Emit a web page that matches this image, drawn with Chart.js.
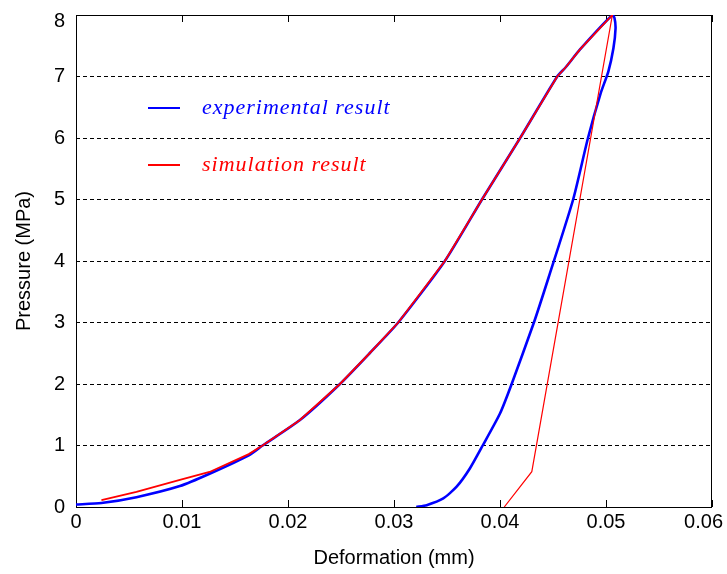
<!DOCTYPE html>
<html>
<head>
<meta charset="utf-8">
<title>Pressure vs Deformation</title>
<script src="https://cdn.jsdelivr.net/npm/chart.js@4.4.1/dist/chart.umd.min.js"></script>
<style>
    html, body { margin: 0; padding: 0; background: #fff; }
    #wrap { width: 727px; height: 574px; }
</style>
</head>
<body>
<div id="wrap"><canvas id="pressureChart" width="727" height="574"></canvas></div>
<script>
// experimental result (loading then unloading)
const expDeformation = [0, 0.0024, 0.0057, 0.0098, 0.0126, 0.0163, 0.0176, 0.0211, 0.0249, 0.0277, 0.0304,
    0.0348, 0.0383, 0.0419, 0.0454, 0.0462, 0.04755, 0.0506, 0.0508, 0.0509, 0.0507, 0.05022, 0.0495,
    0.0483, 0.0469, 0.0446, 0.0432, 0.0411, 0.0400, 0.03837, 0.03717, 0.03591, 0.03465, 0.03308, 0.0321];
const expPressure = [0.04, 0.065, 0.16, 0.34, 0.54, 0.84, 1.0, 1.41, 2.0, 2.5, 3.0,
    4.0, 5.0, 6.0, 7.0, 7.15, 7.44, 8.0, 7.95, 7.78, 7.46, 7.08, 6.73,
    6.0, 5.0, 3.74, 3.0, 2.0, 1.52, 1.0, 0.63, 0.33, 0.14, 0.03, 0];

// simulation result
const simDeformation = [0.0024, 0.0057, 0.0098, 0.0126, 0.0163, 0.0176, 0.0211, 0.0249, 0.0277, 0.0304,
    0.0348, 0.0383, 0.0419, 0.0454, 0.0462, 0.04755, 0.0506, 0.0430, 0.0404];
const simPressure = [0.11, 0.245, 0.44, 0.57, 0.86, 1.0, 1.41, 2.0, 2.5, 3.0,
    4.0, 5.0, 6.0, 7.0, 7.15, 7.44, 8.0, 0.574, 0];
const simPeakIndex = 16;

const xTicks = [0, 0.01, 0.02, 0.03, 0.04, 0.05, 0.06];
const xTickLabels = ['0', '0.01', '0.02', '0.03', '0.04', '0.05', '0.06'];
const yTicks = [0, 1, 2, 3, 4, 5, 6, 7, 8];

const legendItems = [
    { label: 'experimental result', color: '#0000ff' },
    { label: 'simulation result', color: '#ff0000' }
];

const tickFont = '20px "Liberation Sans", Arial, sans-serif';

function toPoints(xs, ys) {
    return xs.map((x, i) => ({ x: x, y: ys[i] }));
}

// no extra room for overhanging tick labels
function fixAxis(s, size) {
    if (s.isHorizontal()) s.height = size; else s.width = size;
    s.paddingTop = 0; s.paddingBottom = 0;
    s.paddingLeft = 0; s.paddingRight = 0;
}

// frame, inward ticks, tick labels and legend
const framePlugin = {
    id: 'frame',
    beforeDatasetsDraw(chart) {
        const { ctx, chartArea: a, scales } = chart;
        ctx.save();
        ctx.strokeStyle = '#000';
        ctx.lineWidth = 1;
        ctx.strokeRect(a.left + 0.5, a.top + 0.5, a.right - a.left - 1, a.bottom - a.top);
        ctx.beginPath();
        xTicks.forEach(v => {
            const px = Math.round(scales.x.getPixelForValue(v)) + 0.5;
            ctx.moveTo(px, a.bottom); ctx.lineTo(px, a.bottom - 7);
            ctx.moveTo(px, a.top); ctx.lineTo(px, a.top + 7);
        });
        ctx.stroke();

        // tick labels, kept inside the canvas like the original
        ctx.fillStyle = '#000';
        ctx.font = tickFont;
        ctx.textBaseline = 'middle';
        ctx.textAlign = 'center';
        xTicks.forEach((v, i) => {
            const w = ctx.measureText(xTickLabels[i]).width;
            const px = Math.min(scales.x.getPixelForValue(v), chart.width - 4 - w / 2);
            ctx.fillText(xTickLabels[i], px, a.bottom + 15);
        });
        ctx.textAlign = 'right';
        yTicks.forEach(v => {
            const py = Math.max(scales.y.getPixelForValue(v), a.top + 6);
            ctx.fillText(String(v), a.left - 11, py);
        });
        ctx.restore();
    },
    afterDraw(chart) {
        const ctx = chart.ctx;
        ctx.save();
        ctx.font = 'italic 22px "Liberation Serif", "DejaVu Serif", serif';
        ctx.letterSpacing = '1px';
        ctx.textBaseline = 'middle';
        legendItems.forEach((item, i) => {
            const y = 108 + i * 57;
            ctx.strokeStyle = item.color;
            ctx.lineWidth = 2;
            ctx.beginPath();
            ctx.moveTo(148, y); ctx.lineTo(180, y);
            ctx.stroke();
            ctx.fillStyle = item.color;
            ctx.fillText(item.label, 202, y);
        });
        ctx.restore();
    }
};

const ctx = document.getElementById('pressureChart').getContext('2d');
window.pressureChart = new Chart(ctx, {
    type: 'scatter',
    data: {
        datasets: [{
            label: 'experimental result',
            data: toPoints(expDeformation, expPressure),
            showLine: true,
            borderColor: '#0000ff',
            borderWidth: 2.6,
            pointRadius: 0,
            tension: 0.2,
            order: 2
        }, {
            label: 'simulation result',
            data: toPoints(simDeformation, simPressure),
            showLine: true,
            borderColor: '#ff0000',
            borderWidth: 1.8,
            pointRadius: 0,
            tension: 0,
            order: 1,
            segment: {
                borderWidth: c => c.p0DataIndex >= simPeakIndex ? 1.2 : 1.8
            }
        }]
    },
    options: {
        responsive: false,
        animation: false,
        layout: { padding: { top: 15, right: 15, left: 0, bottom: 0 } },
        plugins: {
            legend: { display: false },
            tooltip: { enabled: false }
        },
        scales: {
            x: {
                type: 'linear',
                min: 0,
                max: 0.06,
                afterFit: s => fixAxis(s, 67),
                afterBuildTicks: s => { s.ticks = xTicks.map(v => ({ value: v })); },
                grid: { display: false, drawTicks: false },
                border: { display: false },
                ticks: { display: false },
                title: {
                    display: true,
                    text: 'Deformation (mm)',
                    color: '#000',
                    padding: { top: 0, bottom: 4 },
                    font: { family: '"Liberation Sans", Arial, sans-serif', size: 20 }
                }
            },
            y: {
                min: 0,
                max: 8,
                afterFit: s => fixAxis(s, 76),
                afterBuildTicks: s => { s.ticks = yTicks.map(v => ({ value: v })); },
                grid: {
                    drawTicks: false,
                    color: c => (c.tick && (c.tick.value === 0 || c.tick.value === 8)) ? 'rgba(0,0,0,0)' : '#000',
                    lineWidth: 1
                },
                border: { display: false, dash: [4, 3] },
                ticks: { display: false },
                title: {
                    display: true,
                    text: 'Pressure (MPa)',
                    color: '#000',
                    padding: { top: 12, bottom: 0 },
                    font: { family: '"Liberation Sans", Arial, sans-serif', size: 20 }
                }
            }
        }
    },
    plugins: [framePlugin]
});
</script>
</body>
</html>
